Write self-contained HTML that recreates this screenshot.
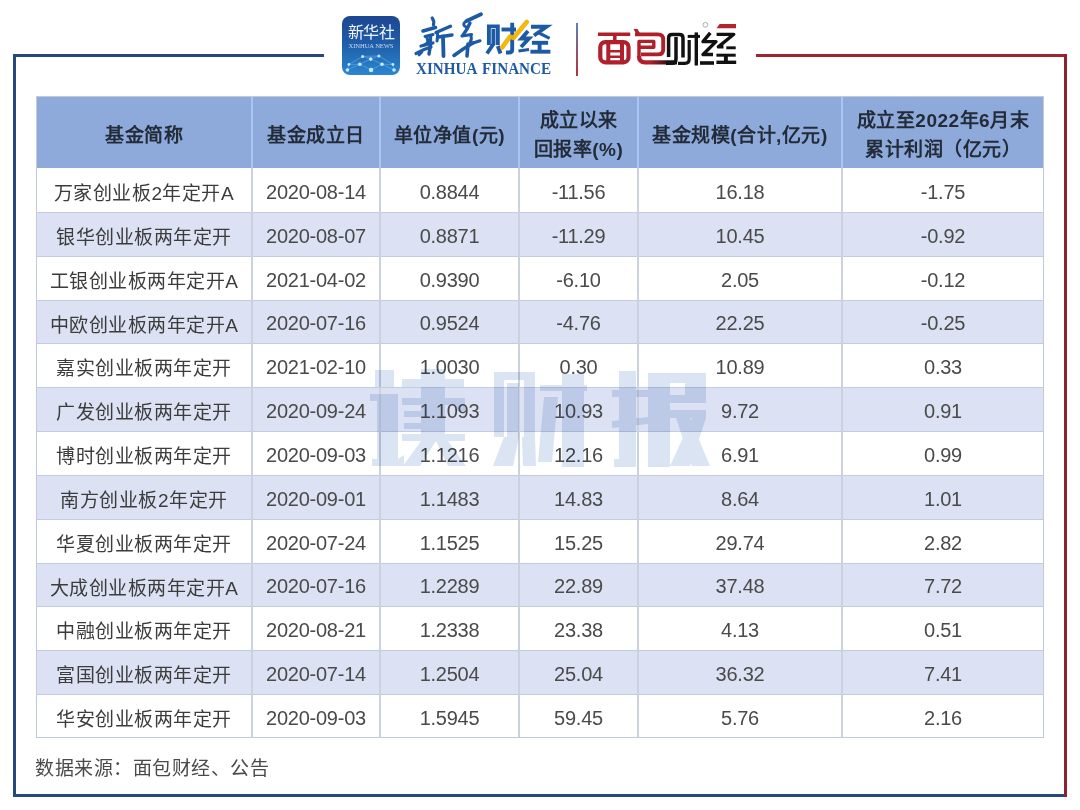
<!DOCTYPE html>
<html lang="zh-CN">
<head>
<meta charset="utf-8">
<style>
html,body{margin:0;padding:0;}
body{width:1080px;height:810px;background:#fff;position:relative;overflow:hidden;font-family:"Liberation Sans",sans-serif;color:#3c3c3c;}
div{position:absolute;}
.blue{background:#26487a;}
.red{background:#a2232e;}
.hd{background:#8eaadb;}
.rb{left:36px;width:1008px;background:#dce2f4;}
.hl{left:36px;width:1008px;height:1px;background:#c3cbe0;}
.vh{top:96px;height:72px;width:2px;background:#a9c6f2;}
.vb{top:168px;height:570px;width:2px;background:#cbd1de;}
.ol{left:36px;top:96px;width:1006px;height:640px;border:1px solid #c0c9de;}
.th{top:96px;height:72px;text-align:center;font-weight:bold;color:#232b38;font-size:19px;letter-spacing:0.5px;white-space:nowrap;}
.th1{line-height:72px;top:100px;}
.th2{line-height:29px;top:106px;}
.td{text-align:center;font-size:20px;letter-spacing:-0.25px;white-space:nowrap;color:#4a4a4a;padding-top:2px;}
.c0{padding-top:4px;font-size:19px;letter-spacing:0.5px;color:#3c3c3c;}
.src{left:35px;top:753px;font-size:19px;letter-spacing:0.5px;color:#4a4a4a;white-space:nowrap;}
.wmsvg{position:absolute;left:0;top:0;mix-blend-mode:multiply;pointer-events:none;}
</style>
</head>
<body>
<div class="blue" style="left:13px;top:54px;width:311px;height:3px"></div>
<div class="blue" style="left:13px;top:54px;width:3px;height:743px"></div>
<div class="blue" style="left:13px;top:794px;width:1054px;height:3px"></div>
<div class="red" style="left:756px;top:54px;width:311px;height:3px"></div>
<div class="red" style="left:1064px;top:54px;width:3px;height:743px;background:#8a2230"></div>

<!-- Xinhua icon -->
<div style="left:342px;top:16px;width:58px;height:59px;border-radius:8px;background:linear-gradient(#1c4791 0%,#1f5ca8 45%,#2a86cf 100%);overflow:hidden">
  <div style="left:0;top:8px;width:58px;text-align:center;color:#f2f6fb;font-size:16px;line-height:18px;letter-spacing:-0.5px;font-weight:300">新华社</div>
  <div style="left:0;top:25.5px;width:58px;text-align:center;color:#c9dbef;font-family:'Liberation Serif',serif;font-size:6.6px;line-height:8px;letter-spacing:-0.1px">XINHUA NEWS</div>
</div>
<svg style="position:absolute;left:0;top:0" width="1080" height="90" viewBox="0 0 1080 90">
<g stroke="#6fb3ea" stroke-width="0.7" fill="none" opacity="0.8">
<polyline points="347.4,70 348.9,64.5 362.6,56.4 378.9,56 392.9,64.5 394,70"/>
<polyline points="359.8,64.2 370.7,59.1 382,64.2"/>
<polyline points="359.8,64.2 371.1,70 382,64.2"/>
<polyline points="362.6,56.4 370.7,59.1 378.9,56"/>
<polyline points="348.9,64.5 359.8,64.2"/><polyline points="382,64.2 392.9,64.5"/>
<polyline points="347.4,70 359.8,64.2"/><polyline points="394,70 382,64.2"/>
</g>
<g fill="#c8ecff">
<circle cx="362.6" cy="56.4" r="1.5"/><circle cx="378.9" cy="56" r="1.5"/><circle cx="370.7" cy="59.1" r="1.8"/>
<circle cx="359.8" cy="64.2" r="1.8"/><circle cx="382" cy="64.2" r="1.8"/><circle cx="348.9" cy="64.5" r="1.4"/>
<circle cx="392.9" cy="64.5" r="1.4"/><circle cx="347.4" cy="70" r="1.8"/><circle cx="371.1" cy="70" r="2.2"/><circle cx="394" cy="70" r="1.8"/>
</g>
<!-- 新华 brush -->
<g stroke="#1c5aa6" fill="none" stroke-linecap="round" stroke-linejoin="round">
<path d="M432.2 18 Q434.5 21 433.4 25" stroke-width="3.2"/>
<path d="M423 31 L435.5 27.5" stroke-width="3.6"/>
<path d="M425 36.5 L433 34.5" stroke-width="3.0"/>
<path d="M427 38 Q429 42 426 44 L424 45" stroke-width="3.0"/>
<path d="M421 46 L433 43" stroke-width="3.2"/>
<path d="M416 53.5 Q424 49 431 47" stroke-width="3.2"/>
<path d="M430.5 36 Q431 46 429 54" stroke-width="3.4"/>
<path d="M419 55 L422 52" stroke-width="2.6"/>
<path d="M436 32.5 L450.5 26.3" stroke-width="3.4"/>
<path d="M437 41 Q438 36 437.5 33" stroke-width="3.0"/>
<path d="M438.5 37 L452 35" stroke-width="3.4"/>
<path d="M443 36.5 L443.5 56" stroke-width="3.8"/>
<path d="M466.5 21 L481 14.2" stroke-width="3.8"/>
<path d="M465 22 Q462 25 466 27" stroke-width="3.0"/>
<path d="M470 23 Q467 30 463 35" stroke-width="3.4"/>
<path d="M462 36 L471.5 34.5" stroke-width="3.2"/>
<path d="M471 36 Q472 40 470 42" stroke-width="3.0"/>
<path d="M471.5 43.5 L480 40.8" stroke-width="3.2"/>
<path d="M454 55.5 Q464 48 473 43" stroke-width="3.6"/>
<path d="M468 44 L467 56" stroke-width="3.6"/>
</g>
<!-- 财经 -->
<g stroke="#1c5aa6" fill="none" stroke-width="3.9" stroke-linejoin="miter">
<path d="M488.9 45 V26.4 H497.8 V45"/>
<path d="M493.4 29 V44 L487 53.5"/>
<path d="M497.8 46 L500.5 53.5"/>
<path d="M501.5 29.5 H516"/>
<path d="M512.2 22.8 V49.5 Q512.2 52.5 509 52.5 H506"/>
<path d="M528 31 L521.5 38.5 H529 L521 47"/>
<path d="M518.5 51 L529 49.5" stroke-width="3.2"/>
<path d="M531 26.8 H546.5 L534 35.5"/>
<path d="M537.8 32.4 L549.6 38.4" stroke-width="3.2"/>
<path d="M531.9 42.8 H548.1"/>
<path d="M539.6 42 V51"/>
<path d="M530.4 51.7 H550.4"/>
</g>
<path d="M502.2 47.3 L510 36.5 L513.5 38 L526.7 22" stroke="#f2b300" stroke-width="4.6" fill="none" stroke-linecap="round" stroke-linejoin="round" opacity="0.95"/>
<!-- divider -->
<defs>
<linearGradient id="dv" x1="0" y1="0" x2="0" y2="1"><stop offset="0" stop-color="#5f7fba"/><stop offset="1" stop-color="#b5303b"/></linearGradient>
<linearGradient id="rb" x1="650" y1="0" x2="672" y2="0" gradientUnits="userSpaceOnUse"><stop offset="0" stop-color="#b01f2a"/><stop offset="1" stop-color="#111"/></linearGradient>
</defs>
<rect x="576" y="23" width="2" height="53" fill="url(#dv)"/>
<!-- 面包财经 -->
<g fill="none" stroke="#b01f2a" stroke-linejoin="round">
<path d="M598 34.2 H630.2" stroke-width="3.5"/>
<path d="M614.8 35.5 V41" stroke-width="3.5"/>
<rect x="600.3" y="42.1" width="28.2" height="20.2" rx="5" stroke-width="4.2"/>
<path d="M608.3 42 V62 M622 42 V62" stroke-width="4"/>
<path d="M610 51.2 H620 M610 56.8 H620" stroke-width="2.6"/>
<path d="M635 34.4 H658 Q663.2 34.4 663.2 39.6 V49.5 Q663.2 54.4 658 54.4 H641" stroke-width="3.9"/>
<path d="M639 58 V41.4 H653.8 V47.2 H639" stroke-width="3.4"/>
</g>
<polygon points="633.5,29 637.5,29 640,33.5 636,33.5" fill="#b01f2a"/>
<path d="M639 56 Q639 62.4 645 62.4 H677" stroke="url(#rb)" stroke-width="4.2" fill="none"/>
<g fill="none" stroke="#111" stroke-linejoin="round">
<path d="M668.6 57 V38 Q668.6 34.6 672 34.6 H679.5 Q683 34.6 683 38 V57.6" stroke-width="3.5"/>
<path d="M676 37 V59 Q676 63.3 672 63.3 H666" stroke-width="3.5"/>
<path d="M689.2 40 V59 Q689.2 63.3 685 63.3 H678" stroke-width="3.2"/>
<path d="M687.7 36.4 H700" stroke-width="3"/>
<path d="M696.3 32.4 V65.5" stroke-width="3.4"/>
<path d="M710.3 32.8 L703 41.6 H716 L703 54.5 H713" stroke-width="3.4"/>
<path d="M700 63 H714" stroke-width="3.6"/>
<path d="M716.6 34.3 H733.8 L718.3 46.9 H723.5" stroke-width="3.3"/>
<path d="M726.3 47.8 H735.7" stroke-width="2.9"/>
<path d="M716.4 55.2 H735.7" stroke-width="3"/>
<path d="M725.9 55 V62" stroke-width="3.9"/>
<path d="M716.4 62.3 H736.2" stroke-width="3.4"/>
</g>
<polygon points="716.5,28.2 719.6,23.9 736,23.9 736,28.2" fill="#b3242e"/>
<circle cx="705.4" cy="24.8" r="2.4" fill="none" stroke="#999" stroke-width="0.8"/>
</svg>
<div style="left:416px;top:59px;color:#1e5aa2;font-size:17px;line-height:20px;font-weight:bold;font-family:'Liberation Serif',serif;white-space:nowrap;transform:scaleX(0.89);transform-origin:0 0;word-spacing:2px">XINHUA FINANCE</div>

<div class="hd" style="left:36px;top:96px;width:1008px;height:72px"></div>
<div class="rb" style="top:212px;height:44px"></div>
<div class="rb" style="top:300px;height:43px"></div>
<div class="rb" style="top:387px;height:44px"></div>
<div class="rb" style="top:475px;height:44px"></div>
<div class="rb" style="top:563px;height:43px"></div>
<div class="rb" style="top:650px;height:44px"></div>
<div class="hl" style="top:212px"></div>
<div class="hl" style="top:256px"></div>
<div class="hl" style="top:300px"></div>
<div class="hl" style="top:343px"></div>
<div class="hl" style="top:387px"></div>
<div class="hl" style="top:431px"></div>
<div class="hl" style="top:475px"></div>
<div class="hl" style="top:519px"></div>
<div class="hl" style="top:563px"></div>
<div class="hl" style="top:606px"></div>
<div class="hl" style="top:650px"></div>
<div class="hl" style="top:694px"></div>
<div class="vh" style="left:251px"></div>
<div class="vb" style="left:251px"></div>
<div class="vh" style="left:379px"></div>
<div class="vb" style="left:379px"></div>
<div class="vh" style="left:518px"></div>
<div class="vb" style="left:518px"></div>
<div class="vh" style="left:637px"></div>
<div class="vb" style="left:637px"></div>
<div class="vh" style="left:841px"></div>
<div class="vb" style="left:841px"></div>
<div class="ol"></div>
<div class="th th1" style="left:37px;width:214px">基金简称</div>
<div class="th th1" style="left:253px;width:126px">基金成立日</div>
<div class="th th1" style="left:381px;width:137px">单位净值(元)</div>
<div class="th th2" style="left:520px;width:117px">成立以来<br>回报率(%)</div>
<div class="th th1" style="left:639px;width:202px">基金规模(合计,亿元)</div>
<div class="th th2" style="left:843px;width:200px">成立至2022年6月末<br>累计利润（亿元）</div>
<div class="td c0" style="left:37px;width:214px;top:168px;height:44px;line-height:44px">万家创业板2年定开A</div>
<div class="td" style="left:253px;width:126px;top:168px;height:44px;line-height:44px">2020-08-14</div>
<div class="td" style="left:381px;width:137px;top:168px;height:44px;line-height:44px">0.8844</div>
<div class="td" style="left:520px;width:117px;top:168px;height:44px;line-height:44px">-11.56</div>
<div class="td" style="left:639px;width:202px;top:168px;height:44px;line-height:44px">16.18</div>
<div class="td" style="left:843px;width:200px;top:168px;height:44px;line-height:44px">-1.75</div>
<div class="td c0" style="left:37px;width:214px;top:212px;height:44px;line-height:44px">银华创业板两年定开</div>
<div class="td" style="left:253px;width:126px;top:212px;height:44px;line-height:44px">2020-08-07</div>
<div class="td" style="left:381px;width:137px;top:212px;height:44px;line-height:44px">0.8871</div>
<div class="td" style="left:520px;width:117px;top:212px;height:44px;line-height:44px">-11.29</div>
<div class="td" style="left:639px;width:202px;top:212px;height:44px;line-height:44px">10.45</div>
<div class="td" style="left:843px;width:200px;top:212px;height:44px;line-height:44px">-0.92</div>
<div class="td c0" style="left:37px;width:214px;top:256px;height:44px;line-height:44px">工银创业板两年定开A</div>
<div class="td" style="left:253px;width:126px;top:256px;height:44px;line-height:44px">2021-04-02</div>
<div class="td" style="left:381px;width:137px;top:256px;height:44px;line-height:44px">0.9390</div>
<div class="td" style="left:520px;width:117px;top:256px;height:44px;line-height:44px">-6.10</div>
<div class="td" style="left:639px;width:202px;top:256px;height:44px;line-height:44px">2.05</div>
<div class="td" style="left:843px;width:200px;top:256px;height:44px;line-height:44px">-0.12</div>
<div class="td c0" style="left:37px;width:214px;top:300px;height:43px;line-height:43px">中欧创业板两年定开A</div>
<div class="td" style="left:253px;width:126px;top:300px;height:43px;line-height:43px">2020-07-16</div>
<div class="td" style="left:381px;width:137px;top:300px;height:43px;line-height:43px">0.9524</div>
<div class="td" style="left:520px;width:117px;top:300px;height:43px;line-height:43px">-4.76</div>
<div class="td" style="left:639px;width:202px;top:300px;height:43px;line-height:43px">22.25</div>
<div class="td" style="left:843px;width:200px;top:300px;height:43px;line-height:43px">-0.25</div>
<div class="td c0" style="left:37px;width:214px;top:343px;height:44px;line-height:44px">嘉实创业板两年定开</div>
<div class="td" style="left:253px;width:126px;top:343px;height:44px;line-height:44px">2021-02-10</div>
<div class="td" style="left:381px;width:137px;top:343px;height:44px;line-height:44px">1.0030</div>
<div class="td" style="left:520px;width:117px;top:343px;height:44px;line-height:44px">0.30</div>
<div class="td" style="left:639px;width:202px;top:343px;height:44px;line-height:44px">10.89</div>
<div class="td" style="left:843px;width:200px;top:343px;height:44px;line-height:44px">0.33</div>
<div class="td c0" style="left:37px;width:214px;top:387px;height:44px;line-height:44px">广发创业板两年定开</div>
<div class="td" style="left:253px;width:126px;top:387px;height:44px;line-height:44px">2020-09-24</div>
<div class="td" style="left:381px;width:137px;top:387px;height:44px;line-height:44px">1.1093</div>
<div class="td" style="left:520px;width:117px;top:387px;height:44px;line-height:44px">10.93</div>
<div class="td" style="left:639px;width:202px;top:387px;height:44px;line-height:44px">9.72</div>
<div class="td" style="left:843px;width:200px;top:387px;height:44px;line-height:44px">0.91</div>
<div class="td c0" style="left:37px;width:214px;top:431px;height:44px;line-height:44px">博时创业板两年定开</div>
<div class="td" style="left:253px;width:126px;top:431px;height:44px;line-height:44px">2020-09-03</div>
<div class="td" style="left:381px;width:137px;top:431px;height:44px;line-height:44px">1.1216</div>
<div class="td" style="left:520px;width:117px;top:431px;height:44px;line-height:44px">12.16</div>
<div class="td" style="left:639px;width:202px;top:431px;height:44px;line-height:44px">6.91</div>
<div class="td" style="left:843px;width:200px;top:431px;height:44px;line-height:44px">0.99</div>
<div class="td c0" style="left:37px;width:214px;top:475px;height:44px;line-height:44px">南方创业板2年定开</div>
<div class="td" style="left:253px;width:126px;top:475px;height:44px;line-height:44px">2020-09-01</div>
<div class="td" style="left:381px;width:137px;top:475px;height:44px;line-height:44px">1.1483</div>
<div class="td" style="left:520px;width:117px;top:475px;height:44px;line-height:44px">14.83</div>
<div class="td" style="left:639px;width:202px;top:475px;height:44px;line-height:44px">8.64</div>
<div class="td" style="left:843px;width:200px;top:475px;height:44px;line-height:44px">1.01</div>
<div class="td c0" style="left:37px;width:214px;top:519px;height:44px;line-height:44px">华夏创业板两年定开</div>
<div class="td" style="left:253px;width:126px;top:519px;height:44px;line-height:44px">2020-07-24</div>
<div class="td" style="left:381px;width:137px;top:519px;height:44px;line-height:44px">1.1525</div>
<div class="td" style="left:520px;width:117px;top:519px;height:44px;line-height:44px">15.25</div>
<div class="td" style="left:639px;width:202px;top:519px;height:44px;line-height:44px">29.74</div>
<div class="td" style="left:843px;width:200px;top:519px;height:44px;line-height:44px">2.82</div>
<div class="td c0" style="left:37px;width:214px;top:563px;height:43px;line-height:43px">大成创业板两年定开A</div>
<div class="td" style="left:253px;width:126px;top:563px;height:43px;line-height:43px">2020-07-16</div>
<div class="td" style="left:381px;width:137px;top:563px;height:43px;line-height:43px">1.2289</div>
<div class="td" style="left:520px;width:117px;top:563px;height:43px;line-height:43px">22.89</div>
<div class="td" style="left:639px;width:202px;top:563px;height:43px;line-height:43px">37.48</div>
<div class="td" style="left:843px;width:200px;top:563px;height:43px;line-height:43px">7.72</div>
<div class="td c0" style="left:37px;width:214px;top:606px;height:44px;line-height:44px">中融创业板两年定开</div>
<div class="td" style="left:253px;width:126px;top:606px;height:44px;line-height:44px">2020-08-21</div>
<div class="td" style="left:381px;width:137px;top:606px;height:44px;line-height:44px">1.2338</div>
<div class="td" style="left:520px;width:117px;top:606px;height:44px;line-height:44px">23.38</div>
<div class="td" style="left:639px;width:202px;top:606px;height:44px;line-height:44px">4.13</div>
<div class="td" style="left:843px;width:200px;top:606px;height:44px;line-height:44px">0.51</div>
<div class="td c0" style="left:37px;width:214px;top:650px;height:44px;line-height:44px">富国创业板两年定开</div>
<div class="td" style="left:253px;width:126px;top:650px;height:44px;line-height:44px">2020-07-14</div>
<div class="td" style="left:381px;width:137px;top:650px;height:44px;line-height:44px">1.2504</div>
<div class="td" style="left:520px;width:117px;top:650px;height:44px;line-height:44px">25.04</div>
<div class="td" style="left:639px;width:202px;top:650px;height:44px;line-height:44px">36.32</div>
<div class="td" style="left:843px;width:200px;top:650px;height:44px;line-height:44px">7.41</div>
<div class="td c0" style="left:37px;width:214px;top:694px;height:44px;line-height:44px">华安创业板两年定开</div>
<div class="td" style="left:253px;width:126px;top:694px;height:44px;line-height:44px">2020-09-03</div>
<div class="td" style="left:381px;width:137px;top:694px;height:44px;line-height:44px">1.5945</div>
<div class="td" style="left:520px;width:117px;top:694px;height:44px;line-height:44px">59.45</div>
<div class="td" style="left:639px;width:202px;top:694px;height:44px;line-height:44px">5.76</div>
<div class="td" style="left:843px;width:200px;top:694px;height:44px;line-height:44px">2.16</div>
<svg class="wmsvg" width="1080" height="810" viewBox="0 0 1080 810"><g fill="#dae4f3">
<!-- 读 -->
<rect x="375" y="370" width="19" height="17"/>
<rect x="370" y="394" width="28" height="7"/>
<rect x="377" y="394" width="21" height="69"/>
<polygon points="372,459 398,459 404,455 404,466 372,466"/>
<rect x="421" y="369" width="24" height="19"/>
<rect x="402" y="379" width="62" height="8"/>
<rect x="402" y="398" width="63" height="7"/>
<rect x="456" y="398" width="9" height="13"/>
<rect x="404" y="411" width="17" height="6"/>
<rect x="404" y="423" width="17" height="6"/>
<rect x="421" y="387" width="24" height="54"/>
<rect x="402" y="434" width="63" height="7"/>
<polygon points="421,441 436,441 420,466 403,466"/>
<polygon points="436,441 448,441 466,466 448,466"/>
<!-- 财 -->
<rect x="494" y="372" width="41" height="8"/>
<rect x="494" y="372" width="10" height="65"/>
<rect x="524" y="372" width="11" height="65"/>
<rect x="507" y="383" width="12" height="54"/>
<polygon points="504,437 519,437 513,466 493,466"/>
<polygon points="522,437 535,437 536,466 523,466"/>
<rect x="540" y="385" width="47" height="6"/>
<rect x="562" y="374" width="22" height="93"/>
<polygon points="544,397 558,397 552,462 538,462"/>
<!-- 报 -->
<rect x="619" y="371" width="17" height="94"/>
<rect x="612" y="390" width="36" height="7"/>
<polygon points="612,421 648,417 648,424 612,428"/>
<rect x="614" y="459" width="22" height="8"/>
<rect x="648" y="373" width="22" height="94"/>
<rect x="648" y="373" width="58" height="10"/>
<rect x="685" y="373" width="21" height="30"/>
<rect x="670" y="395" width="36" height="8"/>
<rect x="670" y="410" width="36" height="8"/>
<polygon points="692,418 706,418 690,466 670,466"/>
<polygon points="676,418 690,418 710,466 692,466"/>
</g></svg>
<div class="src">数据来源：面包财经、公告</div>
</body>
</html>
